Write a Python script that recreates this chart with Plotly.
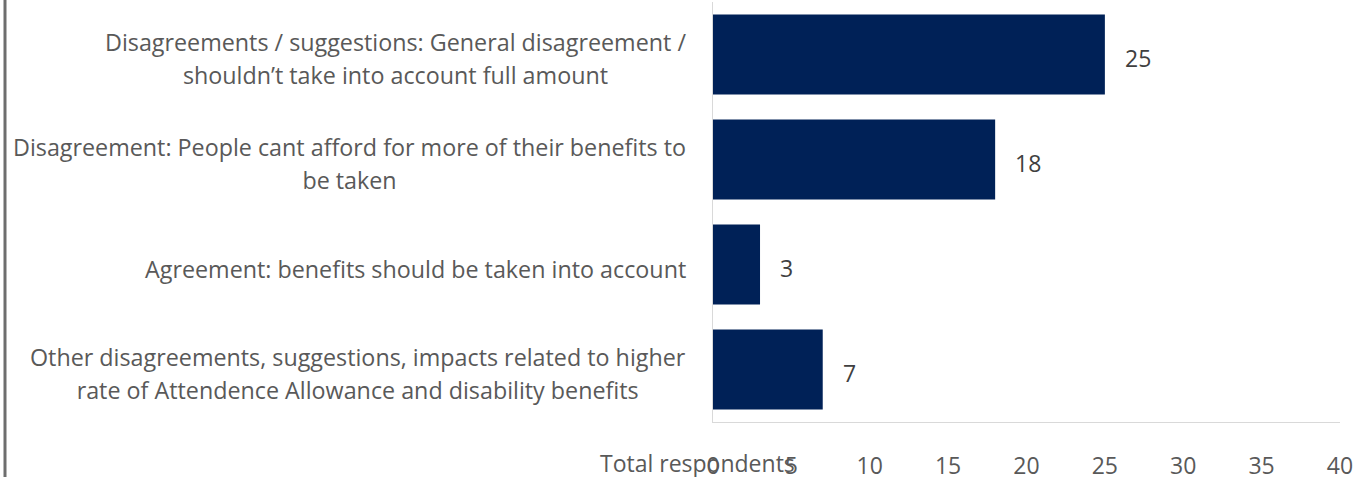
import plotly.graph_objects as go

# Response categories (top to bottom) and number of respondents in each
categories = [
    "Disagreements / suggestions: General disagreement /<br>shouldn’t take into account full amount",
    "Disagreement: People cant afford for more of their benefits to<br>be taken",
    "Agreement: benefits should be taken into account",
    "Other disagreements, suggestions, impacts related to higher<br>rate of Attendence Allowance and disability benefits",
]
respondents = [25, 18, 3, 7]
tick_values = [0, 5, 10, 15, 20, 25, 30, 35, 40]
axis_title = "Total respondents"

BAR_COLOUR = "#002157"
TEXT_COLOUR = "#595959"
VALUE_COLOUR = "#404040"
AXIS_COLOUR = "#d9d9d9"
FONT = "Open Sans"
FONT_SIZE = 23
LABEL_SIZE = 23.3

W, H = 1365, 477
M_L, M_R, M_T, M_B = 713, 25, 2, 55
plot_w = W - M_L - M_R
plot_h = H - M_T - M_B

fig = go.Figure(
    go.Bar(
        x=respondents,
        y=categories,
        orientation="h",
        marker=dict(color=BAR_COLOUR, line_width=0),
        hoverinfo="skip",
    )
)

annotations = []

# Category labels: centred multi-line blocks, right-aligned against the axis
for cat in categories:
    lines = cat.split("<br>")
    text = "<br>".join(f'<span style="font-size:{LABEL_SIZE}px">{ln}</span>' for ln in lines)
    annotations.append(dict(
        x=0, xref="paper", xanchor="right", xshift=-25,
        y=cat, yref="y", yanchor="middle", yshift=-4,
        text=text, align="center", showarrow=False,
        font=dict(family=FONT, size=25.4, color=TEXT_COLOUR),
    ))

# Value labels just beyond each bar end
for cat, v in zip(categories, respondents):
    annotations.append(dict(
        x=v, xref="x", xanchor="left", xshift=18,
        y=cat, yref="y", yanchor="middle", yshift=-3,
        text=str(v), showarrow=False,
        font=dict(family=FONT, size=FONT_SIZE, color=VALUE_COLOUR),
    ))

# Axis title sitting at the left of the tick row
annotations.append(dict(
    x=(697 - M_L) / plot_w, xref="paper", xanchor="center",
    y=0, yref="paper", yanchor="middle", yshift=-41,
    text=axis_title, showarrow=False,
    font=dict(family=FONT, size=FONT_SIZE, color=TEXT_COLOUR),
))

fig.update_layout(
    width=W, height=H,
    margin=dict(l=M_L, r=M_R, t=M_T, b=M_B, pad=0),
    paper_bgcolor="white", plot_bgcolor="white",
    bargap=0.238,
    showlegend=False,
    font=dict(family=FONT, size=FONT_SIZE, color=TEXT_COLOUR),
    annotations=annotations,
    shapes=[dict(
        type="line", xref="paper", yref="paper",
        x0=(5 - M_L) / plot_w, x1=(5 - M_L) / plot_w,
        y0=-0.2, y1=1.1,
        line=dict(color="#6e6e6e", width=3),
    )],
)
fig.update_xaxes(
    range=[0, 40], tickvals=tick_values, ticks="",
    showgrid=False, zeroline=False,
    showline=True, linecolor=AXIS_COLOUR, linewidth=1,
    tickfont=dict(family=FONT, size=FONT_SIZE, color=TEXT_COLOUR),
    ticklabelstandoff=23,
    automargin=False,
    fixedrange=True,
)
fig.update_yaxes(
    autorange="reversed", showticklabels=False, ticks="",
    showgrid=False, zeroline=False,
    showline=True, linecolor=AXIS_COLOUR, linewidth=1,
    automargin=False,
    fixedrange=True,
)

fig.write_html("out.html", config={"displayModeBar": False})
